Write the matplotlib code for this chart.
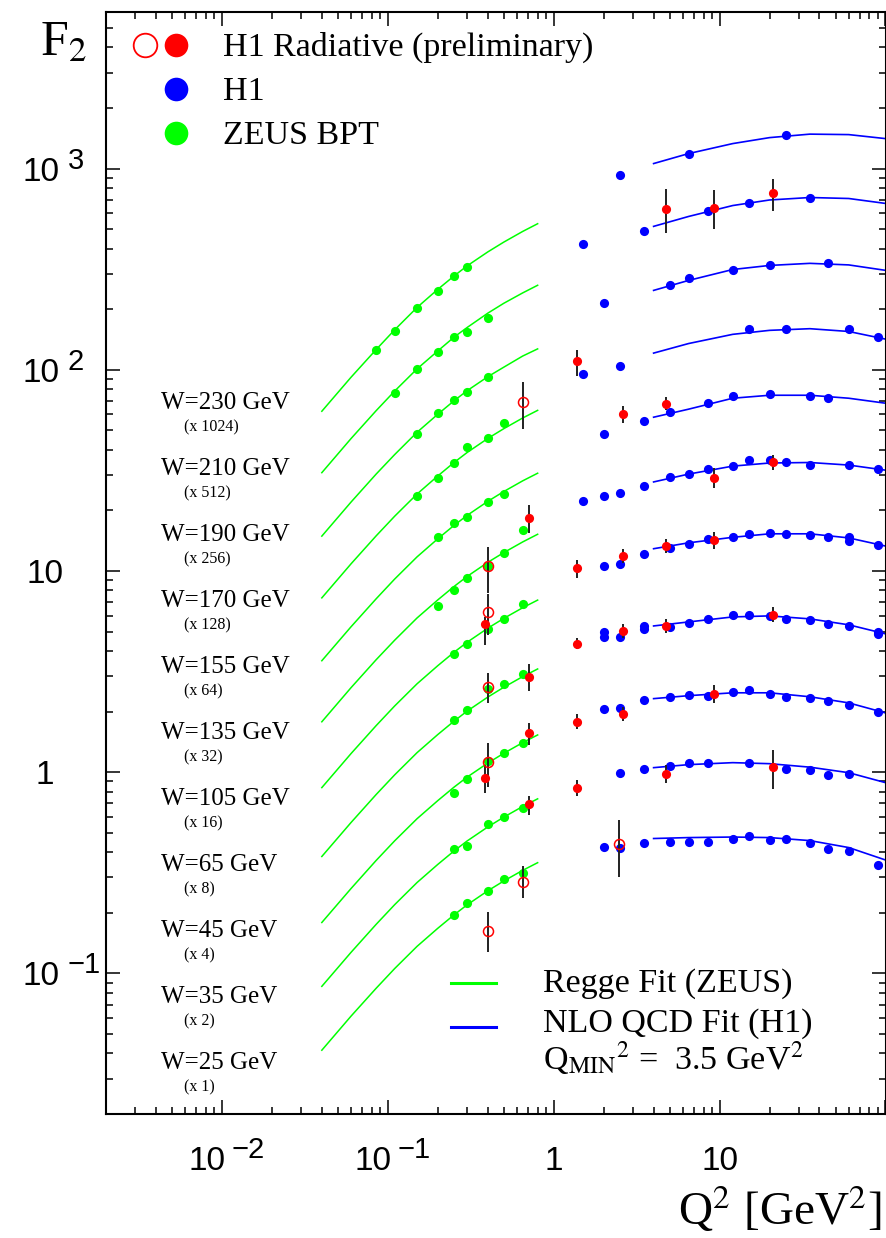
import numpy as np
import matplotlib
matplotlib.use("Agg")
import matplotlib.pyplot as plt
from matplotlib.lines import Line2D
from matplotlib.ticker import LogLocator, NullFormatter
import matplotlib.transforms as mtransforms

# ---------------- data ----------------
w_labels = ["W=230 GeV", "W=210 GeV", "W=190 GeV", "W=170 GeV", "W=155 GeV",
            "W=135 GeV", "W=105 GeV", "W=65 GeV", "W=45 GeV", "W=35 GeV", "W=25 GeV"]
scale_labels = ["(x 1024)", "(x 512)", "(x 256)", "(x 128)", "(x 64)", "(x 32)",
                "(x 16)", "(x 8)", "(x 4)", "(x 2)", "(x 1)"]

# Regge fit (ZEUS), plotted F2 x scale factor
regge_q2 = [0.04, 0.06, 0.085, 0.11, 0.15, 0.2, 0.25, 0.3, 0.4, 0.5, 0.65, 0.8]
regge_w230 = [62.2, 91.8, 126, 158, 204, 251, 292, 328, 385, 431, 487, 532]
regge_w210 = [30.8, 45.5, 62.6, 78.4, 101, 124, 145, 162, 191, 214, 241, 263]
regge_w190 = [14.9, 22.0, 30.3, 37.9, 48.9, 60.1, 70.0, 78.6, 92.3, 103, 117, 127]
regge_w170 = [7.35, 10.85, 14.94, 18.72, 24.12, 29.66, 34.54, 38.75, 45.53, 50.96, 57.58, 62.85]
regge_w155 = [3.58, 5.28, 7.27, 9.12, 11.75, 14.45, 16.82, 18.87, 22.17, 24.82, 28.05, 30.61]
regge_w135 = [1.78, 2.63, 3.62, 4.53, 5.84, 7.18, 8.36, 9.38, 11.03, 12.34, 13.94, 15.22]
regge_w105 = [0.838, 1.237, 1.703, 2.134, 2.749, 3.382, 3.938, 4.418, 5.191, 5.811, 6.565, 7.166]
regge_w65 = [0.381, 0.562, 0.774, 0.970, 1.250, 1.538, 1.790, 2.009, 2.360, 2.642, 2.985, 3.258]
regge_w45 = [0.179, 0.264, 0.364, 0.456, 0.587, 0.722, 0.841, 0.944, 1.109, 1.241, 1.402, 1.531]
regge_w35 = [0.0862, 0.1272, 0.1752, 0.2196, 0.2828, 0.3479, 0.4051, 0.4545, 0.5339, 0.5977, 0.6753, 0.7371]
regge_w25 = [0.0415, 0.0613, 0.0843, 0.1057, 0.1362, 0.1675, 0.1950, 0.2188, 0.2571, 0.2878, 0.3251, 0.3549]

# NLO QCD fit (H1)
nlo_q2 = [4.0, 6.5, 12, 20, 35, 60, 100]
nlo_w230 = [1059, 1187, 1331, 1425, 1483, 1475, 1409]
nlo_w210 = [516, 578, 655, 698, 718, 710, 671]
nlo_w190 = [248, 278, 315, 330, 338, 332, 312]
nlo_w170 = [121, 135, 150, 157, 160, 155, 142]
nlo_w155 = [58.1, 63.7, 72.2, 74.7, 74.7, 72.2, 68.2]
nlo_w135 = [27.7, 30.3, 33.2, 34.4, 34.6, 33.6, 31.7]
nlo_w105 = [12.9, 13.8, 14.7, 15.3, 15.3, 14.6, 13.3]
nlo_w65 = [5.33, 5.58, 5.91, 5.98, 5.78, 5.40, 4.87]
nlo_w45 = [2.32, 2.40, 2.48, 2.48, 2.37, 2.21, 1.97]
nlo_w35 = [1.053, 1.090, 1.115, 1.102, 1.059, 0.994, 0.887]
nlo_w25 = [0.468, 0.473, 0.476, 0.473, 0.457, 0.422, 0.366]

# ZEUS BPT points
zeus_q2 = [0.085, 0.11, 0.15, 0.2, 0.25, 0.3,
           0.11, 0.15, 0.2, 0.25, 0.3, 0.4,
           0.15, 0.2, 0.25, 0.3, 0.4,
           0.15, 0.2, 0.25, 0.3, 0.4, 0.5,
           0.2, 0.25, 0.3, 0.4, 0.5, 0.65,
           0.2, 0.25, 0.3, 0.4, 0.5,
           0.25, 0.3, 0.4, 0.5, 0.65,
           0.25, 0.3, 0.4, 0.5, 0.65,
           0.25, 0.3, 0.4, 0.5, 0.65,
           0.25, 0.3, 0.4, 0.5, 0.65,
           0.25, 0.3, 0.4, 0.5, 0.65]
zeus_f2 = [126, 155, 202, 245, 294, 326,
           76.4, 101, 122, 145, 154, 180,
           47.9, 60.8, 70.6, 77.3, 91.8,
           23.6, 28.9, 34.4, 41.2, 45.7, 54.3,
           14.8, 17.3, 18.5, 22.0, 24.1, 16.0,
           6.70, 8.05, 9.24, 10.6, 12.3,
           3.87, 4.34, 5.15, 5.78, 6.86,
           1.82, 2.04, 2.60, 2.75, 3.08,
           0.791, 0.929, 1.13, 1.25, 1.40,
           0.417, 0.431, 0.555, 0.601, 0.667,
           0.194, 0.2225, 0.258, 0.293, 0.317]

# H1 points
h1_q2 = [2.5, 6.5, 25,
         1.5, 3.5, 8.5, 15, 35,
         2.0, 5, 6.5, 12, 20, 45,
         1.5, 2.5, 15, 25, 60, 90,
         2.0, 3.5, 5, 8.5, 12, 20, 35, 45,
         1.5, 2.0, 2.5, 3.5, 5, 6.5, 8.5, 12, 15, 20, 25, 35, 60, 90,
         2.0, 2.5, 3.5, 5, 6.5, 8.5, 12, 15, 20, 25, 35, 45, 60, 60, 90,
         2.0, 2.0, 2.5, 3.5, 3.5, 5, 6.5, 8.5, 12, 15, 20, 25, 35, 45, 60, 90, 90,
         2.0, 2.5, 3.5, 5, 6.5, 8.5, 12, 15, 20, 25, 35, 45, 60, 90,
         2.5, 3.5, 5, 6.5, 8.5, 15, 25, 35, 45, 60,
         2.0, 2.5, 3.5, 5, 6.5, 8.5, 12, 15, 20, 25, 35, 45, 60, 90]
h1_f2 = [934, 1187, 1475,
         420, 492, 612, 678, 718,
         214, 263, 285, 315, 330, 338,
         95.0, 104, 159, 159, 159, 145,
         47.9, 55.5, 61.5, 68.2, 73.9, 75.6, 73.9, 72.2,
         22.3, 23.6, 24.4, 26.4, 29.3, 30.3, 32.1, 33.2, 35.6, 35.6, 34.7, 33.6, 33.6, 32.1,
         10.6, 10.8, 12.1, 13.0, 13.6, 14.4, 14.7, 15.3, 15.4, 15.3, 15.1, 14.7, 14.7, 14.1, 13.5,
         4.98, 4.70, 4.70, 5.33, 5.16, 5.27, 5.52, 5.78, 6.05, 6.05, 5.98, 5.78, 5.71, 5.46, 5.33, 4.98, 4.87,
         2.07, 2.09, 2.29, 2.37, 2.42, 2.40, 2.51, 2.57, 2.45, 2.37, 2.34, 2.26, 2.16, 2.00,
         0.994, 1.041, 1.077, 1.115, 1.115, 1.115, 1.041, 1.029, 0.972, 0.983,
         0.427, 0.422, 0.447, 0.452, 0.452, 0.452, 0.468, 0.479, 0.462, 0.468, 0.447, 0.413, 0.408, 0.344]

# H1 radiative (preliminary), filled
rad_q2 = [0.386, 0.71, 0.71, 0.71, 0.386, 0.71,
          1.39, 1.39, 1.39, 1.39, 1.39,
          2.63, 2.63, 2.63, 2.63,
          4.75, 4.75, 4.75, 4.75, 4.75,
          9.2, 9.2, 9.2, 9.2,
          21.0, 21.0, 21.0, 21.0]
rad_f2 = [5.46, 18.3, 2.98, 1.57, 0.939, 0.692,
          110, 10.4, 4.34, 1.78, 0.838,
          60.1, 11.9, 5.04, 1.95,
          633, 67.5, 13.3, 5.34, 0.983,
          640, 28.9, 14.3, 2.45,
          752, 34.7, 6.05, 1.065]
rad_lo = [4.29, 15.4, 2.54, 1.37, 0.791, 0.615,
          92.9, 9.23, 4.08, 1.63, 0.764,
          54.3, 11.0, 4.65, 1.80,
          476, 63.0, 12.3, 4.93, 0.887,
          498, 25.8, 12.9, 2.21,
          612, 31.7, 5.58, 0.828]
rad_hi = [5.91, 21.3, 3.46, 1.76, 1.09, 0.764,
          126, 11.3, 4.66, 1.95, 0.917,
          65.9, 12.9, 5.46, 2.11,
          796, 73.0, 14.4, 5.78, 1.09,
          778, 32.5, 15.6, 2.72,
          892, 37.6, 6.63, 1.29]

# H1 radiative (preliminary), open
rado_q2 = [0.652, 0.403, 0.403, 0.403, 0.403, 0.652, 0.403, 2.48]
rado_f2 = [69.0, 10.6, 6.26, 2.66, 1.127, 0.286, 0.163, 0.442]
rado_lo = [50.7, 7.78, 4.81, 2.21, 0.848, 0.236, 0.127, 0.303]
rado_hi = [86.7, 13.2, 7.69, 3.12, 1.40, 0.340, 0.201, 0.581]

# axis tick labels
xtick_vals = [0.01, 0.1, 1, 10]
xtick_base = ["10", "10", "1", "10"]
xtick_exp = ["\u22122", "\u22121", "", ""]
ytick_vals = [0.1, 1, 10, 100, 1000]
ytick_base = ["10", "1", "10", "10", "10"]
ytick_exp = ["\u22121", "", "", "2", "3"]

regge_curves = [regge_w230, regge_w210, regge_w190, regge_w170, regge_w155, regge_w135,
                regge_w105, regge_w65, regge_w45, regge_w35, regge_w25]
nlo_curves = [nlo_w230, nlo_w210, nlo_w190, nlo_w170, nlo_w155, nlo_w135,
              nlo_w105, nlo_w65, nlo_w45, nlo_w35, nlo_w25]

GREEN = '#00ff00'
BLUE = '#0000ff'
RED = '#ff0000'

# ---------------- figure ----------------
W_, H_ = 887, 1238
L, R, T, B = 106, 885.5, 12, 1114
fig = plt.figure(figsize=(W_ / 100, H_ / 100), dpi=100)
ax = fig.add_axes([L / W_, 1 - B / H_, (R - L) / W_, (B - T) / H_])
ax.set_xscale('log')
ax.set_yscale('log')
ax.set_xlim(0.002, 100)
ax.set_ylim(0.02, 6000)


def afx(px):
    return (px - L) / (R - L)


def afy(py):
    return (B - py) / (B - T)


for c in regge_curves:
    ax.plot(regge_q2, c, '-', color=GREEN, lw=1.1, zorder=2)
for c in nlo_curves:
    ax.plot(nlo_q2, c, '-', color=BLUE, lw=1.2, zorder=2)

ms = 6.6
ax.plot(zeus_q2, zeus_f2, 'o', color=GREEN, ms=ms, mec='none', zorder=3)
ax.plot(h1_q2, h1_f2, 'o', color=BLUE, ms=ms, mec='none', zorder=3)
ax.vlines(rad_q2, rad_lo, rad_hi, color='#202020', lw=1.4, zorder=4)
ax.vlines(rado_q2, rado_lo, rado_hi, color='#202020', lw=1.4, zorder=4)
ax.plot(rad_q2, rad_f2, 'o', color=RED, ms=ms, mec='none', zorder=5)
ax.plot(rado_q2, rado_f2, 'o', mfc='none', mec=RED, mew=1.1, ms=7.2, zorder=6)

# ---------------- axes styling ----------------
for s in ax.spines.values():
    s.set_linewidth(1.5)
ax.xaxis.set_major_locator(LogLocator(base=10, numticks=30))
ax.yaxis.set_major_locator(LogLocator(base=10, numticks=30))
ax.xaxis.set_minor_locator(LogLocator(base=10, subs=np.arange(2, 10), numticks=60))
ax.yaxis.set_minor_locator(LogLocator(base=10, subs=np.arange(2, 10), numticks=60))
ax.xaxis.set_minor_formatter(NullFormatter())
ax.yaxis.set_minor_formatter(NullFormatter())
ax.tick_params(which='both', direction='in', top=True, right=True,
               labelbottom=False, labelleft=False, width=1.1)
ax.tick_params(which='major', length=10)
ax.tick_params(which='minor', length=5)

base_font = dict(family='Liberation Sans', fontsize=24)
exp_font = dict(family='Liberation Sans', fontsize=21)

# y tick labels
ytr = mtransforms.blended_transform_factory(ax.transAxes, ax.transData)
for v, b, e in zip(ytick_vals, ytick_base, ytick_exp):
    trb = mtransforms.offset_copy(ytr, fig=fig, x=0, y=-12, units='dots')
    if e:
        ax.text(afx(60), v, b, transform=trb, ha='right', va='baseline', **base_font)
        tre = mtransforms.offset_copy(ytr, fig=fig, x=0, y=0, units='dots')
        ax.text(afx(68), v, e, transform=tre, ha='left', va='baseline', **exp_font)
    else:
        ax.text(afx(45), v, b, transform=trb, ha='center', va='baseline', **base_font)

# x tick labels
xtr = mtransforms.blended_transform_factory(ax.transData, ax.transAxes)
for v, b, e in zip(xtick_vals, xtick_base, xtick_exp):
    if e:
        trb = mtransforms.offset_copy(xtr, fig=fig, x=4, y=0, units='dots')
        ax.text(v, afy(1170), b, transform=trb, ha='right', va='baseline', **base_font)
        tre = mtransforms.offset_copy(xtr, fig=fig, x=10, y=0, units='dots')
        ax.text(v, afy(1158), e, transform=tre, ha='left', va='baseline', **exp_font)
    else:
        ax.text(v, afy(1170), b, transform=xtr, ha='center', va='baseline', **base_font)

serif = dict(family='Liberation Serif', math_fontfamily='stix')

# axis titles
fig.text(40 / W_, 1 - 55 / H_, r'F$_2$', fontsize=36, ha='left', va='baseline', **serif)
fig.text(882 / W_, 1 - 1225 / H_, r'Q$^2$ [GeV$^2$]', fontsize=34, ha='right',
         va='baseline', **serif)

# W labels
for k, (wl, sl) in enumerate(zip(w_labels, scale_labels)):
    yb = 409 + 66 * k
    ax.text(afx(161), afy(yb), wl, transform=ax.transAxes, fontsize=18,
            ha='left', va='baseline', **serif)
    ax.text(afx(184), afy(yb + 22), sl, transform=ax.transAxes, fontsize=11.5,
            ha='left', va='baseline', **serif)

# top legend
ax.add_line(Line2D([afx(145)], [afy(45)], transform=ax.transAxes, marker='o', ls='none',
                   mfc='none', mec=RED, mew=1.3, ms=17))
ax.add_line(Line2D([afx(176)], [afy(45)], transform=ax.transAxes, marker='o', ls='none',
                   color=RED, mec='none', ms=17))
ax.add_line(Line2D([afx(176)], [afy(89)], transform=ax.transAxes, marker='o', ls='none',
                   color=BLUE, mec='none', ms=17))
ax.add_line(Line2D([afx(176)], [afy(133)], transform=ax.transAxes, marker='o', ls='none',
                   color=GREEN, mec='none', ms=17))
for txt, yb in [("H1 Radiative (preliminary)", 56), ("H1", 100), ("ZEUS BPT", 144)]:
    ax.text(afx(223), afy(yb), txt, transform=ax.transAxes, fontsize=24.5,
            ha='left', va='baseline', **serif)

# bottom legend
ax.add_line(Line2D([afx(451), afx(496)], [afy(983), afy(983)], transform=ax.transAxes,
                   color=GREEN, lw=2.2))
ax.add_line(Line2D([afx(451), afx(496)], [afy(1027), afy(1027)], transform=ax.transAxes,
                   color=BLUE, lw=2.2))
ax.text(afx(543), afy(992), "Regge Fit (ZEUS)", transform=ax.transAxes, fontsize=24.5,
        ha='left', va='baseline', **serif)
ax.text(afx(543), afy(1032), "NLO QCD Fit (H1)", transform=ax.transAxes, fontsize=24.5,
        ha='left', va='baseline', **serif)
ax.text(afx(543), afy(1070), r'Q$_{\mathrm{MIN}}{}^{2}$ =  3.5 GeV$^{2}$', transform=ax.transAxes,
        fontsize=24.5, ha='left', va='baseline', **serif)

fig.savefig('out.png', dpi=100)
